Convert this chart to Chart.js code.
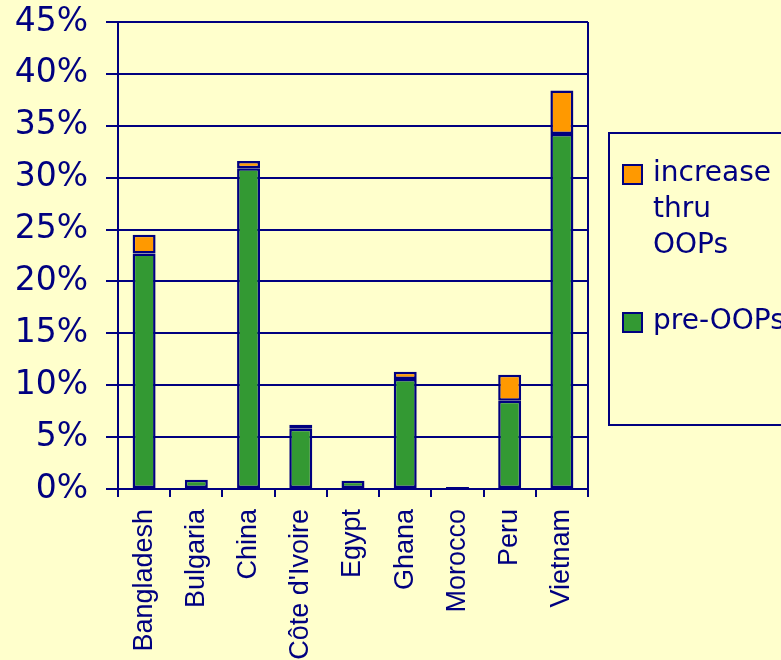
<!DOCTYPE html>
<html>
<head>
<meta charset="utf-8">
<script src="https://cdn.jsdelivr.net/npm/chart.js@4.4.1/dist/chart.umd.min.js"></script>
<style>
  html, body { margin: 0; padding: 0; background: #ffffcc; }
  #wrap { position: relative; width: 781px; height: 660px; overflow: hidden; }
  #legend {
    position: absolute; left: 608px; top: 132px; width: 190px; height: 294px;
    border: 2px solid #000080; box-sizing: border-box;
    font-family: "DejaVu Sans", sans-serif; font-size: 28px; color: #000080;
  }
  .item { position: absolute; left: 12px; display: flex; align-items: flex-start; }
  .box { width: 17px; height: 17px; border: 2px solid #000080; margin-top: 10px; margin-right: 10px; flex: none; }
  .txt { line-height: 36px; }
</style>
</head>
<body>
<div id="wrap">
  <canvas id="chart" width="781" height="660"></canvas>
  <div id="legend">
    <div class="item" style="top: 20px;"><div class="box" style="background:#ff9900"></div><div class="txt">increase<br>thru<br>OOPs</div></div>
    <div class="item" style="top: 168px;"><div class="box" style="background:#339933"></div><div class="txt">pre-OOPs</div></div>
  </div>
</div>
<script>
const countries = ["Bangladesh", "Bulgaria", "China", "Côte d'Ivoire", "Egypt", "Ghana", "Morocco", "Peru", "Vietnam"];
const preOOPs = [22.7, 0.9, 30.9, 5.8, 0.8, 10.6, 0.2, 8.5, 34.2];
const increaseOOPs = [1.8, 0, 0.7, 0.4, 0, 0.7, 0, 2.5, 4.2];
const yTicks = [0, 5, 10, 15, 20, 25, 30, 35, 40, 45];

const navy = "#000080";

// frame line on the right side of the plot area
const rightFrame = {
  id: "rightFrame",
  afterDraw(chart) {
    const { ctx, chartArea } = chart;
    ctx.save();
    ctx.strokeStyle = navy;
    ctx.lineWidth = 2;
    ctx.beginPath();
    ctx.moveTo(chartArea.right, chartArea.top);
    ctx.lineTo(chartArea.right, chartArea.bottom + 8);
    ctx.stroke();
    ctx.restore();
  }
};

new Chart(document.getElementById("chart"), {
  type: "bar",
  data: {
    labels: countries,
    datasets: [
      {
        label: "pre-OOPs",
        data: preOOPs,
        backgroundColor: "#339933",
        borderColor: navy,
        borderWidth: 2.5,
        borderSkipped: false,
        barPercentage: 0.44,
        categoryPercentage: 1
      },
      {
        label: "increase thru OOPs",
        data: increaseOOPs,
        backgroundColor: "#ff9900",
        borderColor: navy,
        borderWidth: 2.5,
        borderSkipped: false,
        barPercentage: 0.44,
        categoryPercentage: 1
      }
    ]
  },
  options: {
    responsive: false,
    animation: false,
    layout: { padding: { top: 22, right: 193, left: 0, bottom: 0 } },
    plugins: { legend: { display: false }, tooltip: { enabled: false } },
    scales: {
      x: {
        stacked: true,
        offset: true,
        grid: { offset: true, drawOnChartArea: false, drawTicks: true, tickLength: 8, color: navy, lineWidth: 2 },
        border: { display: true, color: navy, width: 2 },
        ticks: {
          minRotation: 90, maxRotation: 90, autoSkip: false, padding: 12,
          color: navy, font: { family: "Liberation Sans", size: 27 }
        },
        afterFit(scale) { scale.height = 171; scale.paddingLeft = 0; scale.paddingRight = 0; }
      },
      y: {
        stacked: true,
        min: 0, max: 45,
        afterBuildTicks(scale) { scale.ticks = yTicks.map(v => ({ value: v })); },
        grid: { color: navy, lineWidth: 2, tickLength: 12 },
        border: { display: true, color: navy, width: 2 },
        ticks: {
          padding: 18, color: navy,
          font: { family: "DejaVu Sans", size: 33 },
          callback: v => v + "%"
        },
        afterFit(scale) { scale.width = 118; scale.paddingTop = 0; scale.paddingBottom = 0; }
      }
    }
  },
  plugins: [rightFrame]
});
</script>
</body>
</html>
